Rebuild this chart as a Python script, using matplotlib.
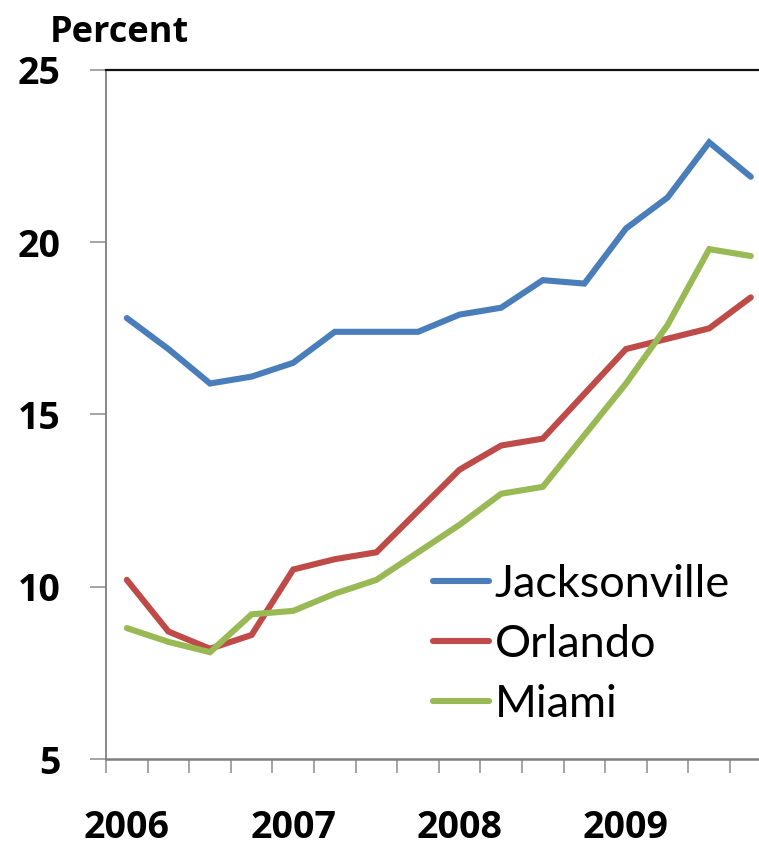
import matplotlib
matplotlib.use("Agg")
import matplotlib.pyplot as plt
import numpy as np

# Quarterly series, 2006 Q1 - 2009 Q4
quarters = ["2006Q1", "2006Q2", "2006Q3", "2006Q4",
            "2007Q1", "2007Q2", "2007Q3", "2007Q4",
            "2008Q1", "2008Q2", "2008Q3", "2008Q4",
            "2009Q1", "2009Q2", "2009Q3", "2009Q4"]
jacksonville = [17.8, 16.9, 15.9, 16.1, 16.5, 17.4, 17.4, 17.4,
                17.9, 18.1, 18.9, 18.8, 20.4, 21.3, 22.9, 21.9]
orlando = [10.2, 8.7, 8.2, 8.6, 10.5, 10.8, 11.0, 12.2,
           13.4, 14.1, 14.3, 15.6, 16.9, 17.2, 17.5, 18.4]
miami = [8.8, 8.4, 8.1, 9.2, 9.3, 9.8, 10.2, 11.0,
         11.8, 12.7, 12.9, 14.4, 15.9, 17.6, 19.8, 19.6]
year_labels = ["2006", "2007", "2008", "2009"]
y_ticks = [5, 10, 15, 20, 25]

series = [("Jacksonville", jacksonville, "#4A7EBB"),
          ("Orlando", orlando, "#BE4B48"),
          ("Miami", miami, "#98B954")]

W, H, DPI = 759, 846, 100
fig = plt.figure(figsize=(W / DPI, H / DPI), dpi=DPI)

# axes box in pixels: left 106, top 70, bottom 759, right beyond the canvas
left_px, top_px, bottom_px, right_px = 106, 70, 759, 771.6
ax = fig.add_axes([left_px / W, (H - bottom_px) / H,
                   (right_px - left_px) / W, (bottom_px - top_px) / H])

x = np.arange(len(quarters))
for name, vals, col in series:
    ax.plot(x, vals, color=col, lw=4.4, solid_capstyle="round",
            solid_joinstyle="miter", label=name)

ax.set_xlim(-0.5, len(quarters) - 0.5)
ax.set_ylim(5, 25)

# spines
ax.spines["right"].set_visible(False)
ax.spines["top"].set_color("#111111")
ax.spines["top"].set_linewidth(1.6)
ax.spines["left"].set_color("#7f7f7f")
ax.spines["left"].set_linewidth(1.3)
ax.spines["bottom"].set_color("#7f7f7f")
ax.spines["bottom"].set_linewidth(1.8)

bold_font = ["Open Sans", "DejaVu Sans"]

# y axis
ax.set_yticks(y_ticks)
ax.set_yticklabels([str(v) for v in y_ticks])
ax.tick_params(axis="y", direction="out", length=11.5, width=1.1,
               color="#8c8c8c", pad=21)
for lab in ax.get_yticklabels():
    lab.set_fontfamily(bold_font)
    lab.set_fontweight("bold")
    lab.set_fontsize(27)

# x axis: minor ticks at quarter boundaries, year labels under first quarter
ax.set_xticks(np.arange(-0.5, len(quarters) + 0.5, 1.0), minor=True)
ax.set_xticks([0, 4, 8, 12])
ax.set_xticklabels(year_labels)
ax.tick_params(axis="x", which="minor", direction="out", length=10,
               width=1.1, color="#8c8c8c")
ax.tick_params(axis="x", which="major", length=0, pad=36)
for lab in ax.get_xticklabels():
    lab.set_fontfamily(bold_font)
    lab.set_fontweight("bold")
    lab.set_fontsize(27)

fig.text(50 / W, 1 - 42 / H, "Percent", fontfamily=bold_font,
         fontweight="bold", fontsize=26, ha="left", va="baseline")

leg = ax.legend(loc="upper left", bbox_to_anchor=(433 / W, 1 - 564 / H),
                bbox_transform=fig.transFigure, frameon=False,
                prop={"family": "Lato", "size": 32.5},
                handlelength=1.25, handletextpad=0.12, labelspacing=0.42,
                borderpad=0, borderaxespad=0)
for h in leg.get_lines():
    h.set_linewidth(4.4)
    h.set_solid_capstyle("round")

fig.savefig("out.png", dpi=DPI)
